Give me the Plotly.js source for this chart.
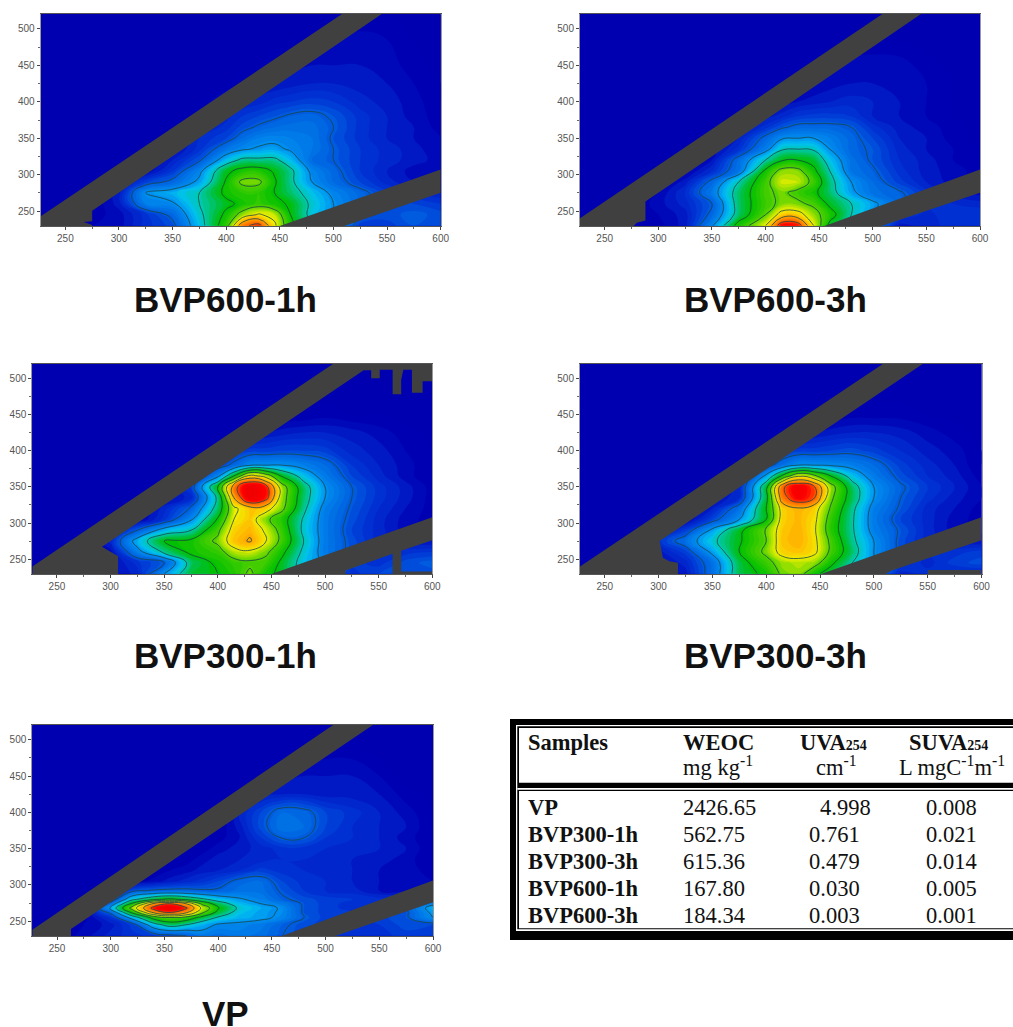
<!DOCTYPE html>
<html><head><meta charset="utf-8">
<script src="https://cdn.plot.ly/plotly-3.0.1.min.js"></script>
<style>html,body{margin:0;padding:0;background:#fff}#chart{width:1013px;height:1027px}</style>
</head><body><div id="chart"></div>
<script>
// ---------- data ----------
const panelNames = ['BVP600-1h','BVP600-3h','BVP300-1h','BVP300-3h','VP'];
const emission = [225,250,275,300,325,350,375,400,415,430,445,460,480,500,525,550,575,600];
const excitation = [230,245,260,275,290,305,320,335,350,365,380,400,425,450,485,520];
const emissionVP = [225,250,275,300,320,340,355,370,385,400,420,440,460,480,500,525,550,575,600];
const excitationVP = [230,245,255,262,268,274,280,292,305,320,335,350,365,380,400,425,450,485,520];

const zBVP600_1h = [
[2,2,5,6,12,16,34,54,85,92,70,50,40,30,14,14,17,16],
[2,2,4,6,12,20,36,50,62,69,65,48,35,28,18,16,18,16],
[2,2,3,8,25,27,38,46,50,54,50,47,36,28,20,16,15,13],
[2,2,3,8,28,32,38,50,53,53,48,42,34,26,20,14,11,9],
[2,2,2,6,14,20,30,49,60,60,49,40,28,21,15,10,7,5],
[2,2,2,2,5,13,26,46,51,52,47,40,26,20,13,9,6,5],
[2,2,2,2,3,9,17,33,40,40,40,33,21,18,13,10,8,6],
[2,2,2,2,2,6,12,23,27,29,30,27,23,18,13,10,8,5],
[2,2,2,2,2,4,11,15,21,25,26,25,23,17,12,9,7,5],
[2,2,2,2,2,3,8,12,16,19,21,22,22,18,12,9,7,4],
[2,2,2,2,2,2,5,10,13,15,17,19,20,17,12,9,6,4],
[2,2,2,2,2,2,3,8,9,10,12,13,14,13,10,8,6,3],
[2,2,2,2,2,2,2,3,5,7,7,8,9,9,8,7,5,3],
[2,2,2,2,2,2,2,2,2,3,5,6,7,7,7,6,4,2],
[2,2,2,2,2,2,2,2,2,2,2,2,3,5,6,5,3,2],
[2,2,2,2,2,2,2,2,2,2,2,2,2,2,3,3,2,2]];

const zBVP600_3h = [
[2,2,3,4,8,27,52,68,95,94,68,45,36,26,8,10,12,12],
[2,2,3,5,8,20,42,58,72,72,62,52,38,28,14,10,13,13],
[2,2,3,6,10,18,42,55,60,60,56,46,38,30,20,12,11,10],
[2,2,3,5,11,24,42,56,60,55,50,42,30,22,19,12,8,6],
[2,2,2,3,8,20,38,55,66,65,55,41,28,21,14,9,6,4],
[2,2,2,2,4,11,23,50,61,61,50,38,23,19,12,8,6,4],
[2,2,2,2,3,7,21,38,47,48,45,34,22,17,11,8,5,3],
[2,2,2,2,2,5,12,25,37,38,37,28,20,17,10,7,5,3],
[2,2,2,2,2,3,9,20,27,28,28,25,20,15,9,7,4,2],
[2,2,2,2,2,2,6,12,17,20,20,20,18,12,8,6,4,2],
[2,2,2,2,2,2,3,8,10,13,14,14,13,9,7,5,3,2],
[2,2,2,2,2,2,2,4,6,7,8,9,10,9,7,5,3,2],
[2,2,2,2,2,2,2,2,3,4,5,6,7,7,6,5,3,2],
[2,2,2,2,2,2,2,2,2,3,4,5,6,6.5,6,4,2,2],
[2,2,2,2,2,2,2,2,2,2,2,2,3,3,3,2,2,2],
[2,2,2,2,2,2,2,2,2,2,2,2,2,2,2,2,2,2]];

const zBVP300_1h = [
[2,2,4,6,10,28,45,48,52,60,50,46,34,24,12,15,16,16],
[2,2,4,6,12,18,42,50,54,56,55,46,34,26,14,12,16,18],
[2,2,3,6,25,40,50,54,64,66,60,50,36,24,16,12,12,13],
[2,2,3,10,32,48,50,60,74,79,68,55,38,24,16,10,8,7],
[2,2,2,6,18,32,38,56,72,76,66,54,36,24,15,10,6,4],
[2,2,2,2,4,12,27,49,68,73,60,52,37,24,16,10,6,4],
[2,2,2,2,3,10,19,42,66,74,72,60,40,25,17,11,7,4],
[2,2,2,2,2,6,10,40,78,101,92,62,42,28,18,12,8,4],
[2,2,2,2,2,4,14,48,84,101,92,62,42,28,18,12,8,4],
[2,2,2,2,2,3,8,26,48,72,64,47,34,24,15,10,6,3],
[2,2,2,2,2,2,4,14,20,27,28,28,25,21,13,9,6,3],
[2,2,2,2,2,2,2,6,12,14,14,15,15,14,10,8,5,3],
[2,2,2,2,2,2,2,2,4,5,7,8,9,9,8,6,4,2],
[2,2,2,2,2,2,2,2,2,2,3,3,3,4,3,3,2,2],
[2,2,2,2,2,2,2,2,2,2,2,2,2,2,2,2,2,2],
[2,2,2,2,2,2,2,2,2,2,2,2,2,2,2,2,2,2]];

const zBVP300_3h = [
[2,2,4,6,8,22,44,50,60,62,50,44,34,24,10,12,10,10],
[2,2,4,6,10,22,44,55,62,64,62,50,38,28,14,10,14,16],
[2,2,3,8,14,30,48,60,72,74,70,56,42,28,16,11,12,14],
[2,2,3,12,22,36,47,58,74,77,70,56,40,28,16,10,8,7],
[2,2,2,6,14,30,46,59,73,77,69,53,39,25,17,10,6,4],
[2,2,2,2,4,15,28,48,72,76,70,54,39,24,15,10,6,4],
[2,2,2,2,3,9,22,48,72,77,72,57,40,25,17,10,7,4],
[2,2,2,2,2,6,11,45,84,96,88,60,43,28,18,12,8,5],
[2,2,2,2,2,4,10,45,86,98,88,62,42,28,19,13,9,5],
[2,2,2,2,2,3,7,30,50,67,60,48,34,24,16,11,8,4],
[2,2,2,2,2,2,4,15,22,28,28,27,25,21,14,10,7,3],
[2,2,2,2,2,2,2,6,12,14,14,15,16,14,11,8,6,3],
[2,2,2,2,2,2,2,2,4,5,7,8,9,9,8,6,4,2],
[2,2,2,2,2,2,2,2,2,2,3,3,4,4,4,3,2,2],
[2,2,2,2,2,2,2,2,2,2,2,2,2,2,2,2,2,2],
[2,2,2,2,2,2,2,2,2,2,2,2,2,2,2,2,2,2]];

const zVP = [
[2,3,6,10,12,14,16,18,24,22,24,22,18,16,14,12,12,14,14],
[2,3,5,8,14,34,42,38,32,27,26,24,19,16,14,13,13,16,15],
[2,2,4,12,32,52,58,55,45,37,32,30,26,18,14,13,14,17,28],
[2,2,4,20,50,80,89,80,60,45,34,30,27,17,14,13,14,17,30],
[2,2,3,30,62,92,101,90,66,49,36,31,27,17,14,12,13,18,32],
[2,2,3,22,50,80,89,78,56,43,33,28,24,17,14,12,12,14,26],
[2,2,2,12,36,46,50,46,40,34,29,25,19,16,14,13,12,12,12],
[2,2,2,4,16,19,20,20,19,19,22,22,17,13,11,10,7,6,6],
[2,2,2,2,3,6,8,10,12,15,20,21,15,12,11,9,7,6,5],
[2,2,2,2,2,3,5,6,8,9,11,14,12,11,10,9,7,6,4],
[2,2,2,2,2,2,3,4,6,8,9,10,11,11,10,9,8,6,3],
[2,2,2,2,2,2,2,3,4,6,8,10,12,12,11,10,9,7,3],
[2,2,2,2,2,2,2,2,3,4,7,13,18.5,18,13,11,9,6,3],
[2,2,2,2,2,2,2,2,2,3,8,16,23,21,15,11,9,7,3],
[2,2,2,2,2,2,2,2,2,2,9,15,21,20,15,12,9,6,3],
[2,2,2,2,2,2,2,2,2,2,3,8,9,9,8,8,7,4,2],
[2,2,2,2,2,2,2,2,2,2,2,3,6,7,7,7,5,2,2],
[2,2,2,2,2,2,2,2,2,2,2,2,2,3,4,4,2,2,2],
[2,2,2,2,2,2,2,2,2,2,2,2,2,2,2,2,2,2,2]];

// masked scatter bands
const bandX600_1h = [227,227,508,545,275,275,267,275,275,227,null,450,600,600,510,450];
const bandY600_1h = [229.5,243,520.5,520.5,250.5,236,235,231,229.5,229.5,null,229.5,307,275,229.5,229.5];
const bandX600_3h = [227,227,509,545,288,288,280,277,227,null,455,600,600,508,455];
const bandY600_3h = [229.5,240,520.5,520.5,263,237,234,229.5,229.5,null,229.5,307,275,229.5,229.5];
const bandX300_1h = [227,227,508,600,600,591,591,581,581,573,571,571,563,563,551,551,543,543,536,292,307,307,227,null,450,600,600,571,571,600,600,563,563,519,519,450];
const bandY300_1h = [229.5,240,520.5,520.5,496,496,480,480,512,512,498,478,478,512,512,500,500,511,511,267,254,229.5,229.5,null,229.5,308,276,261.5,233,233,229.5,229.5,257.5,234.5,229.5,229.5];
const bandX300_3h = [227,227,509,546,301,304,310,318,318,227,null,451,600,600,516,511,451,null,550,600,600,550,550];
const bandY300_3h = [229.5,240,520.5,520.5,275,252,247,245,229.5,229.5,null,229.5,308,276,234,229.5,229.5,null,229.5,229.5,235,235,229.5];
const bandXVP = [227,227,507,544,263,263,227,null,459,600,600,509,459];
const bandYVP = [229.5,238,520.5,520.5,239,229.5,229.5,null,229.5,306,276,229.5,229.5];

// table
const tableSamples = ['VP','BVP300-1h','BVP300-3h','BVP600-1h','BVP600-3h'];
const tableWEOC = ['2426.65','562.75','615.36','167.80','184.34'];
const tableUVA = ['4.998','0.761','0.479','0.030','0.003'];
const tableSUVA = ['0.008','0.021','0.014','0.005','0.001'];
const tableHead = ['Samples','WEOC','UVA<span style="font-size:14px">254</span>','SUVA<span style="font-size:14px">254</span>'];
const tableUnits = ['mg kg<sup>-1</sup>','cm<sup>-1</sup>','L mgC<sup>-1</sup>m<sup>-1</sup>'];

// ---------- layout helpers ----------
const W = 1013, H = 1027;
const px = x => x / W, py = y => 1 - y / H;
const boxes = [[40.7,440.7,14,226],[580,980,14,226],[32.3,432.3,363.5,574],[580,981.5,363.5,574],[32.3,433,725,936]];
const zs = [zBVP600_1h,zBVP600_3h,zBVP300_1h,zBVP300_3h,zVP];
const xgrids = [emission,emission,emission,emission,emissionVP];
const ygrids = [excitation,excitation,excitation,excitation,excitationVP];
const bandsX = [bandX600_1h,bandX600_3h,bandX300_1h,bandX300_3h,bandXVP];
const bandsY = [bandY600_1h,bandY600_3h,bandY300_1h,bandY300_3h,bandYVP];
const titleSpots = [[225,299],[775,299],[225,655],[775,655],[225,1013]];

const colorscale = [[0,'#0000af'],[0.04,'#0000b4'],[0.08,'#0020c8'],[0.12,'#0034d4'],[0.18,'#0060e0'],
 [0.28,'#0090f0'],[0.33,'#00c0f0'],[0.38,'#00c8b0'],[0.44,'#00c040'],[0.48,'#00c000'],[0.58,'#50d000'],
 [0.68,'#f0f000'],[0.75,'#ffc000'],[0.82,'#ff9000'],[0.88,'#ff6000'],[0.94,'#ff0000'],[1,'#f00000']];

const traces = [];
const layout = {width:W,height:H,margin:{l:0,r:0,t:0,b:0},paper_bgcolor:'#fff',plot_bgcolor:'#0000af',
  showlegend:false,annotations:[],shapes:[]};
const tickFont = {family:'"Liberation Sans",Arial,sans-serif',size:10,color:'#555'};

boxes.forEach((b,i)=>{
  const s = i===0?'':String(i+1);
  const xa='x'+s, ya='y'+s;
  layout['xaxis'+s]={domain:[px(b[0]),px(b[1])],anchor:ya,range:[227,600],tick0:250,dtick:50,ticks:'outside',ticklen:3,
    tickcolor:'#444',tickfont:tickFont,showgrid:false,zeroline:false,showline:true,linecolor:'#555',linewidth:1,mirror:true,
    minor:{dtick:25,ticks:'outside',ticklen:2,tickcolor:'#666',showgrid:false}};
  layout['yaxis'+s]={domain:[py(b[3]),py(b[2])],anchor:xa,range:[229.5,520.5],tick0:250,dtick:50,ticks:'outside',ticklen:3,
    tickcolor:'#444',tickfont:tickFont,showgrid:false,zeroline:false,showline:true,linecolor:'#999',linewidth:1,mirror:true,
    minor:{dtick:25,ticks:'outside',ticklen:2,tickcolor:'#666',showgrid:false}};
  traces.push({type:'contour',x:xgrids[i],y:ygrids[i],z:zs[i],xaxis:xa,yaxis:ya,zmin:0,zmax:100,colorscale,showscale:false,
    autocontour:false,contours:{start:1,end:102,size:2,coloring:'fill',showlines:false},line:{width:0,smoothing:1.3},hoverinfo:'skip'});
  traces.push({type:'contour',x:xgrids[i],y:ygrids[i],z:zs[i],xaxis:xa,yaxis:ya,showscale:false,
    autocontour:false,contours:{start:18,end:88,size:10,coloring:'none'},line:{color:'rgba(25,70,70,0.8)',width:1,smoothing:1.3},hoverinfo:'skip'});
  traces.push({type:'scatter',mode:'lines',x:bandsX[i],y:bandsY[i],xaxis:xa,yaxis:ya,fill:'toself',fillcolor:'#404040',
    line:{width:0,color:'#404040'},connectgaps:false,hoverinfo:'skip'});
  layout.annotations.push({xref:'paper',yref:'paper',x:px(titleSpots[i][0]),y:py(titleSpots[i][1]),xanchor:'center',yanchor:'middle',
    showarrow:false,text:'<b>'+panelNames[i]+'</b>',font:{family:'"Liberation Sans",Arial,sans-serif',size:35,color:'#111'}});
});

// table frame
const rect=(x0,y0,x1,y1,c)=>layout.shapes.push({type:'rect',xref:'paper',yref:'paper',x0:px(x0),x1:px(x1),y0:py(y0),y1:py(y1),fillcolor:c,line:{width:0},layer:'above'});
rect(510,719,1013,940,'#000');
rect(516,725,1013,931,'#fff');
rect(517.3,726.3,1013,929.3,'#000');
rect(519,728,1013,782.7,'#fff');
rect(517.3,788,1013,789.7,'#fff');
rect(519,791,1013,928.3,'#fff');

const serif = s => ({family:'"Liberation Serif","Times New Roman",serif',size:s,color:'#111'});
const cell=(x,y,t,s)=>layout.annotations.push({xref:'paper',yref:'paper',x:px(x),y:py(y),xanchor:'left',yanchor:'middle',showarrow:false,text:t,font:serif(s||22.5),borderpad:0});
const headX=[527,682,799,908], unitX=[682,815,898];
tableHead.forEach((t,i)=>cell(headX[i],742,'<b>'+t+'</b>'));
tableUnits.forEach((t,i)=>cell(unitX[i],766,t));
const rowY=[807,834,861,888,915], uvaX=[819,808,808,808,808];
tableSamples.forEach((t,i)=>{
  cell(527,rowY[i],'<b>'+t+'</b>');
  cell(682,rowY[i],tableWEOC[i]);
  cell(uvaX[i],rowY[i],tableUVA[i]);
  cell(925,rowY[i],tableSUVA[i]);
});

Plotly.newPlot('chart',traces,layout,{displayModeBar:false,staticPlot:true});
</script></body></html>
